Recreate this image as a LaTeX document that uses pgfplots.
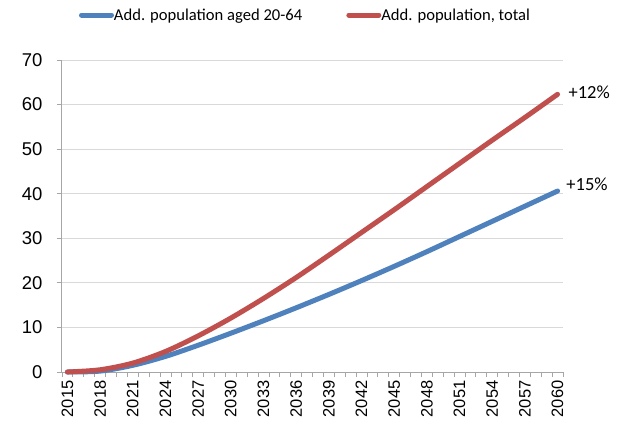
\documentclass[border=0pt]{standalone}
\usepackage{fontspec}
\setmainfont{Carlito}
\newfontfamily\arialf{Liberation Sans}
\usepackage{pgfplots}
\pgfplotsset{compat=1.18}
\definecolor{xblue}{HTML}{4F81BD}
\definecolor{xred}{HTML}{C0504D}
\definecolor{xgrid}{HTML}{D9D9D9}
\definecolor{xaxis}{HTML}{A6A6A6}
\begin{document}
\begin{tikzpicture}
\useasboundingbox (-62pt,-51pt) rectangle (556pt,372pt);
\begin{axis}[
  at={(0pt,0pt)}, anchor=south west,
  scale only axis, width=501pt, height=312pt,
  xmin=2014.5, xmax=2060.5, ymin=0, ymax=70,
  xtick={2015,2018,...,2060},
  xticklabels={2015,2018,2021,2024,2027,2030,2033,2036,2039,2042,2045,2048,2051,2054,2057,2060},
  minor xtick={2014.5,2015.5,...,2060.5},
  ytick={0,10,...,70},
  axis x line*=bottom, axis y line*=left,
  axis line style={xaxis, line width=1pt, -},
  major x tick style={draw=none},
  minor x tick style={xaxis, line width=0.8pt},
  major y tick style={xaxis, line width=0.8pt},
  tick align=outside,
  major tick length=5pt, minor tick length=5pt,
  ymajorgrids, grid style={xgrid, line width=1pt},
  /pgf/number format/assume math mode=true,
  yticklabel style={font=\arialf\fontsize{18.5}{20}\selectfont, xshift=-11pt},
  xticklabel style={font=\arialf\fontsize{16.5}{18}\selectfont, rotate=90, anchor=east, yshift=0pt},
  legend columns=2,
  legend style={draw=none, fill=none, at={(axis description cs:0.486,1)}, anchor=center, yshift=45pt,
    font=\fontsize{16.6}{18}\selectfont, column sep=0pt,
    /tikz/every odd column/.append style={column sep=-2pt},
    /tikz/every even column/.append style={column sep=42pt}},
  legend image code/.code={\draw[#1, line width=5pt] (0pt,0pt) -- (30pt,0pt);},
  clip=false,
]
\addplot[xblue, line width=5pt, smooth, line cap=round] coordinates {
(2015,0) (2018,0.2) (2021,1.5) (2024,3.5) (2027,6.0) (2030,8.7) (2033,11.5) (2036,14.4)
(2039,17.4) (2042,20.5) (2045,23.7) (2048,27.0) (2051,30.4) (2054,33.8) (2057,37.2) (2060,40.6)};
\addlegendentry{Add. population aged 20-64}
\addplot[xred, line width=5pt, smooth, line cap=round] coordinates {
(2015,0) (2018,0.5) (2021,2.0) (2024,4.6) (2027,8.1) (2030,12.1) (2033,16.5) (2036,21.2)
(2039,26.2) (2042,31.3) (2045,36.4) (2048,41.6) (2051,46.8) (2054,52.0) (2057,57.1) (2060,62.3)};
\addlegendentry{Add. population, total}
\node[anchor=west, font=\fontsize{18.5}{20}\selectfont, inner sep=0pt] at (axis cs:2061.0,62.8) {+12\%};
\node[anchor=west, font=\fontsize{18.5}{20}\selectfont, inner sep=0pt] at (axis cs:2060.8,42.2) {+15\%};
\end{axis}
\end{tikzpicture}
\end{document}
